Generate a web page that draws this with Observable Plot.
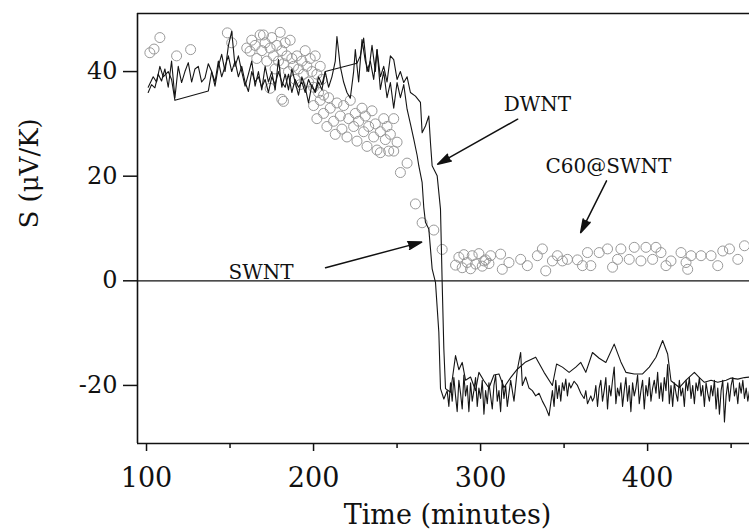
<!DOCTYPE html>
<html>
<head>
<meta charset="utf-8">
<script src="https://cdn.jsdelivr.net/npm/d3@7"></script>
<script src="https://cdn.jsdelivr.net/npm/@observablehq/plot@0.6"></script>
<style>
  html, body { margin: 0; padding: 0; background: #fff; }
  #chart { width: 749px; height: 529px; overflow: hidden; }
</style>
</head>
<body>
<div id="chart"></div>
<script>
// ---- axes ----
const xDomain = [94.6, 461];
const yDomain = [-31.1, 51.1];
const xMajorTicks = [100, 200, 300, 400];
const xMinorTicks = [150, 250, 350, 450];
const yTicks = [-20, 0, 20, 40];

// ---- SWNT (black line, drops first, noisy afterwards) [time, S] ----
const swnt = [
  [101,36],[103,37.5],[105,36.9],[107,39.5],[109,38.2],[111,40.5],[113,37],[115,42],[117,35],[119,41],
  [121,37.9],[123,40],[125,41.7],[127,38],[129,40.5],[131,41],[133,38],[135,38.8],[137,41.5],[139,40],
  [141,37.2],[143,41],[145,43.3],[147,40],[149,44.9],[151,47.7],[153,41],[155,43],[157,40],[159,37.2],
  [161,39.5],[163,42],[165,37.2],[167,40],[169,36.5],[171,41],[173,38],[175,40],[177,36.5],[179,42.3],
  [181,37],[183,39.5],[185,36.5],[187,40.5],[189,38],[191,35.5],[193,39],[195,37],[197,34],[199,37.5],
  [201,36],[203,38],[205,36.5],[207,40],[209,37],[211,39],[213,42],[214,46.7],[216,41],[218,38],
  [220,36],[222,34.9],[224,40],[225,44.2],[227,38],[229,46.1],[231,42],[233,40],[235,45],[237,40],
  [238,44.2],[240,36.6],[242,40],[244,35],[246,37.9],[248,33],[250,37.9],[252,35],[254,37.5],[256,32.8],
  [258,30],[260,27.1],[262,24],[263,22],[265,18.8],[266,14],[267,11.2],[269,9.9],[270,6.1],[271,2.3],
  [273,-0.3],[275,-9.8],[276,-20.6],[278,-22.6],[280,-21],[281,-24],[282,-19.5],[283,-23],[284,-18.5],[285,-22],
  [286,-25],[287,-19],[288,-21.5],[289,-24.5],[290,-18],[291,-22],[292,-20],[293,-25],[294,-19.5],[295,-23],
  [296,-21],[297,-18.5],[298,-24],[299,-20.5],[300,-22.5],[301,-19],[302,-25.5],[303,-21],[304,-23.5],[305,-19.5],
  [306,-22],[307,-24.5],[308,-20],[309,-18],[310,-23],[311,-21],[312,-25],[313,-19],[314,-22.5],[315,-20],
  [316,-24],[317,-21.5],[318,-19],[320,-23],[322,-17],[324,-13.7],[325,-20],[327,-18.4],[329,-20.5],[331,-21],
  [333,-22],[335,-21.5],[337,-23],[339,-24.2],[341,-25.8],[343,-21],[344,-24],[345,-19],[346,-22.5],[347,-20],
  [348,-23],[349,-19.5],[350,-21],[351,-18.8],[352,-22],[353,-19.5],[354,-20.5],[356,-19.2],[358,-20],[360,-21.5],
  [362,-22.5],[363,-21],[364,-23.5],[366,-22],[367,-23],[368,-22.3],[369,-20],[370,-24],[371,-20.5],[372,-19],
  [373,-23],[374,-21],[375,-18.5],[376,-24.5],[377,-20],[378,-22],[379,-19],[380,-16.5],[381,-23.5],[382,-20.5],
  [383,-22],[384,-19.5],[385,-24],[386,-21],[387,-18.5],[388,-23],[389,-20],[390,-25],[391,-19.5],[392,-22],
  [393,-20.5],[394,-18],[395,-23.5],[396,-21],[397,-19],[398,-24.5],[399,-20],[400,-22],[401,-18.5],[402,-23],
  [403,-20.5],[404,-19],[405,-21.5],[406,-17.5],[407,-22.5],[408,-19.5],[409,-23],[410,-18.5],[411,-21],[412,-16],
  [413,-23.5],[414,-20],[415,-24],[416,-19.5],[417,-21.5],[418,-23],[419,-19],[420,-22],[421,-20.5],[422,-24],
  [423,-19],[424,-21],[425,-18.5],[426,-22.5],[427,-20],[428,-23.5],[429,-19.5],[430,-21],[431,-18.5],[432,-22],
  [433,-20],[434,-24],[435,-19.5],[436,-21.5],[437,-23],[438,-20],[439,-22],[440,-19],[441,-24.5],[442,-20.5],
  [443,-25.5],[444,-21],[445,-19],[446,-27],[447,-22],[448,-19.5],[449,-23],[450,-20],[451,-18.5],[452,-22],
  [453,-20.5],[454,-23.5],[455,-19.5],[456,-21.5],[457,-19],[458,-22.5],[459,-20.5],[460,-23],[461,-21]
];

// ---- DWNT (black line, drops later, smoother afterwards) [time, S] ----
const dwnt = [
  [101,37],[104,39],[106,38],[108,41],[110,39],[113,40],[115,38.5],[117,34.5],[137,36.3],[139,40],
  [141,38],[143,42],[145,39],[147,41],[149,43],[151,40],[153,42],[155,39],[157,41],[159,38],
  [161,36.2],[163,40],[165,38],[167,39],[169,37],[171,38.5],[173,36],[175,39],[177,37.5],[179,40],
  [181,38],[183,37],[185,39.5],[187,36],[189,38.5],[191,37],[193,38],[195,36],[197,38.5],[199,37],
  [201,36.2],[203,39],[205,37.5],[207,40],[226,41.6],[228,43],[230,46.4],[232,40],[234,42],[236,38.5],
  [238,44.2],[240,39],[242,41],[244,38],[246,43],[248,42.3],[250,38.5],[252,40],[254,37.9],[256,39],
  [258,36],[261,35.3],[264,34.1],[265,28.3],[267,29.6],[269,31.5],[270,26.4],[271,22],[274,20.1],[276,13.7],
  [277,-0.3],[278,-13],[279,-20.6],[282,-21.3],[285,-14.3],[287,-17],[289,-15.6],[291,-19],[294,-18.4],[297,-21],
  [299,-17.5],[302,-19.1],[305,-20.5],[308,-18],[311,-17.8],[314,-20.4],[318,-18.5],[322,-16.9],[327,-15.5],[333,-14.6],
  [338,-17.5],[343,-20],[345.5,-15.9],[349,-16.5],[353,-17.5],[357,-16.5],[360,-15.6],[363,-17.5],[367,-13.7],[371,-14.8],
  [375,-15.6],[380,-12.1],[384,-15.5],[387,-17.5],[392,-17.8],[397,-17.8],[401,-16.5],[405,-14.6],[409,-11.4],[412,-14],
  [414,-19.1],[419,-20.4],[423,-19],[428,-17.5],[431,-18.5],[434,-19.4],[438,-19],[442,-19.4],[447,-19],[450,-18.6],
  [454,-18.8],[458,-18.5],[461,-18.4]
];

// ---- C60@SWNT (gray open circles) [time, S] ----
const c60 = [
  [102,43.6],[104.5,44.3],[108,46.5],[118,43],[126.4,44.2],[148.4,47.4],[151,45.5],
  [160,44.5],[162,43.9],[163,46],[165,45],[166,42.5],[168,47],[169,44],[170,47],[171,45.5],[172,42],
  [174,44.5],[175,46.5],[176,43],[177,40.5],[178,45],[179,42],[180,47.5],[181,44],[182,41.5],[183,45.5],
  [184,43],[185,40],[186,46],[187,42.5],[174,36.8],[182,34.3],[181,34.7],
  [188,41],[189,38.5],[190,43],[191,40.5],[192,37.5],[193,42],[194,39.5],[195,44],[196,41],[197,38],
  [198,42.5],[199,40],[200,37],[201,43],[202,39.5],[203,36],[204,41],[205,38.5],[206,35.5],
  [200,33.5],[202,31],[204,34.5],[206,32],[208,29.5],[209,35],[210,33],[212,30.5],[213,28],[214,34],
  [216,31.5],[217,29],[218,33.5],[220,27.5],[221,31],[222,34.5],[224,29.5],[225,32],[226,26.7],[227,30.5],
  [229,33],[230,28.5],[231,31.5],[232,25.7],[233,29.5],[235,32.5],[236,27.5],[237,30],[238,25],[240,28.5],
  [240,24.5],[242,31],[243,27],[244,29.5],[245,24.8],[246,28],[248,24.8],[248,31],[250,26.5],[252,20.7],
  [256,22.5],[261,14.7],[265,11.1],[272,9.7],[277,6.0],
  [285,3.0],[287,4.5],[289,2.5],[290,5.0],[292,3.5],[294,2.3],[295,4.8],[297,3.2],[299,5.2],[301,2.8],
  [303,4.0],[305,3.3],[302,3.8],[306,4.8],[312,5.1],[317,3.5],[313,2.2],[324,4.1],[328,2.9],[334,4.8],
  [337,6.1],[339,1.9],[343,3.8],[346,4.8],[349,3.8],[352,4.1],[358,4.0],[361,2.9],[364,5.4],[366,2.9],
  [371,5.4],[376,6.1],[379,2.6],[382,4.1],[384,6.1],[389,4.1],[392,6.4],[396,3.8],[399,6.4],[403,4.1],
  [405,6.4],[408,5.4],[414,3.8],[411,2.9],[420,5.4],[423,3.5],[426,4.8],[424,2.2],[432,4.8],[438,4.8],
  [442,2.9],[445,5.7],[449,6.1],[454,4.1],[458,6.7]
];

// ---- annotations ----
const labelText = ["DWNT", "C60@SWNT", "SWNT"];
const labelX = [313.8, 338.9, 149.1];
const labelY = [33.7, 21.9, 1.5];
const arrowFromX = [322.2, 375.4, 207.2];
const arrowFromY = [30.9, 19.1, 2.5];
const arrowToX = [274.3, 359.9, 264.7];
const arrowToY = [22.3, 9.2, 7.4];

const labels = labelText.map((t, i) => ({text: t, x: labelX[i], y: labelY[i]}));
const arrows = arrowFromX.map((x, i) => ({x1: x, y1: arrowFromY[i], x2: arrowToX[i], y2: arrowToY[i]}));
const toObj = a => a.map(([t, s]) => ({t, s}));

const chart = Plot.plot({
  width: 749,
  height: 529,
  marginLeft: 137,
  marginRight: 0,
  marginTop: 13,
  marginBottom: 86,
  x: {domain: xDomain},
  y: {domain: yDomain},
  style: {fontFamily: "'DejaVu Serif', serif", background: "#fff", color: "#111"},
  marks: [
    Plot.ruleY([0], {stroke: "#111", strokeWidth: 1.3}),
    Plot.ruleY([yDomain[1]], {stroke: "#111", strokeWidth: 1.6}),
    Plot.ruleY([yDomain[0]], {stroke: "#111", strokeWidth: 1.6}),
    Plot.ruleX([xDomain[0]], {stroke: "#111", strokeWidth: 1.6}),
    Plot.dot(toObj(c60), {x: "t", y: "s", r: 5, stroke: "#999", strokeWidth: 1, fill: "none"}),
    Plot.line(toObj(dwnt), {x: "t", y: "s", stroke: "#151515", strokeWidth: 1.1}),
    Plot.line(toObj(swnt), {x: "t", y: "s", stroke: "#151515", strokeWidth: 1.1}),
    Plot.arrow(arrows, {x1: "x1", y1: "y1", x2: "x2", y2: "y2", stroke: "#111", fill: "#111",
      strokeWidth: 1.5, headLength: 14, headAngle: 32}),
    Plot.text(labels, {x: "x", y: "y", text: "text", textAnchor: "start", lineAnchor: "middle",
      fontSize: 20, fill: "#111"}),
    Plot.axisY(yTicks, {tickSize: 14, tickPadding: 6, fontSize: 24, strokeWidth: 1.5, label: null,
      tickFormat: d => String(d)}),
    Plot.axisX(xMajorTicks, {tickSize: 8, tickPadding: 16, fontSize: 27, strokeWidth: 1.5, label: null,
      tickFormat: d => String(d)}),
    Plot.axisX(xMinorTicks, {tickSize: 5, tickFormat: () => "", strokeWidth: 1.5, label: null}),
    Plot.text(["Time (minutes)"], {frameAnchor: "bottom", text: d => d, dy: 72, dx: 4, lineAnchor: "middle",
      fontSize: 27, fill: "#111"}),
    Plot.text(["S (\u03bcV/K)"], {frameAnchor: "left", text: d => d, rotate: -90, dx: -108,
      lineAnchor: "middle", fontSize: 26, fill: "#111"})
  ]
});
document.getElementById("chart").appendChild(chart);
</script>
</body>
</html>
